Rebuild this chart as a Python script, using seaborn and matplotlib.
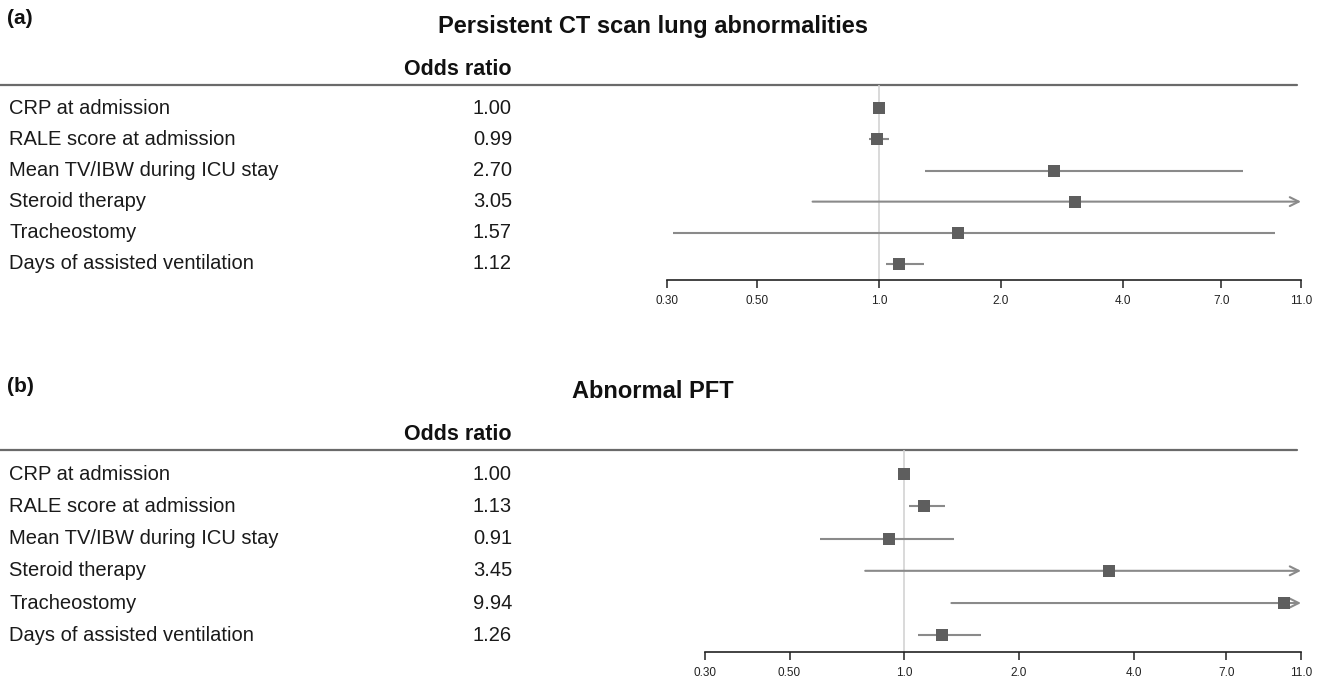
import numpy as np
import pandas as pd
import seaborn as sns
from matplotlib import pyplot as plt

sns.set_style('white')
plt.rcParams['font.family'] = ['Liberation Sans', 'DejaVu Sans']

labels = ['CRP at admission', 'RALE score at admission', 'Mean TV/IBW during ICU stay',
          'Steroid therapy', 'Tracheostomy', 'Days of assisted ventilation']
ticks = [0.30, 0.50, 1.0, 2.0, 4.0, 7.0, 11.0]
tick_labels = ['0.30', '0.50', '1.0', '2.0', '4.0', '7.0', '11.0']

# (a) Persistent CT scan lung abnormalities
or_a = [1.00, 0.99, 2.70, 3.05, 1.57, 1.12]
lo_a = [0.99, 0.945, 1.30, 0.686, 0.311, 1.04]
hi_a = [1.01, 1.06, 7.9, np.inf, 9.48, 1.29]

# (b) Abnormal PFT
or_b = [1.00, 1.13, 0.91, 3.45, 9.94, 1.26]
lo_b = [0.99, 1.03, 0.60, 0.79, 1.33, 1.09]
hi_b = [1.01, 1.28, 1.35, np.inf, np.inf, 1.59]

W, H = 1317, 680
fig = plt.figure(figsize=(W / 100, H / 100), dpi=100)

mark_col = '#5e5e5e'
ci_col = '#8a8a8a'
txt_col = '#1a1a1a'


def panel(tag, title, tag_y, title_base, head_y, axis_y, x_left, orv, lo, hi):
    ylim = (5.52, -0.75)
    bottom = (H - axis_y) / H
    height = (axis_y - head_y) / H
    # text / table layer
    tab = fig.add_axes([0, bottom, 1, height])
    tab.set_xlim(0, W)
    tab.set_ylim(*ylim)
    tab.axis('off')
    tab.plot([0, 1297], [ylim[1], ylim[1]], color='#6a6a6a', lw=1.6, clip_on=False)
    for i, (lab, v) in enumerate(zip(labels, orv)):
        tab.text(9, i, lab, fontsize=14.5, va='center', ha='left', color=txt_col)
        tab.text(512, i, '%.2f' % v, fontsize=14.5, va='center', ha='right', color=txt_col)
    fig.text(511 / W, 1 - (head_y - 10) / H, 'Odds ratio', fontsize=15.5, fontweight='bold',
             ha='right', va='baseline', color='#111')
    fig.text(653 / W, 1 - title_base / H, title, fontsize=17, fontweight='bold',
             ha='center', va='baseline', color='#111')
    fig.text(7 / W, 1 - tag_y / H, tag, fontsize=15, fontweight='bold',
             ha='left', va='center', color='#111')

    # forest layer
    ax = fig.add_axes([x_left / W, bottom, (1301 - x_left) / W, height])
    ax.patch.set_alpha(0)
    df = pd.DataFrame({'y': range(len(labels)), 'or': orv, 'lo': lo, 'hi': hi})
    ax.axvline(1.0, color='#cfcfcf', lw=1.1, zorder=0)
    for r in df.itertuples():
        if np.isfinite(r.hi):
            ax.hlines(r.y, r.lo, r.hi, color=ci_col, lw=1.5, zorder=1)
        else:
            ax.annotate('', xy=(11.0, r.y), xytext=(r.lo, r.y),
                        arrowprops=dict(arrowstyle='->', color=ci_col, lw=1.5,
                                        mutation_scale=16, shrinkA=0, shrinkB=0),
                        annotation_clip=False)
    sns.scatterplot(data=df, x='or', y='y', marker='s', s=70, color=mark_col,
                    edgecolor=mark_col, linewidth=0, ax=ax, zorder=3)
    ax.set_xscale('log')
    ax.set_xlim(0.3, 11.0)
    ax.set_ylim(*ylim)
    ax.set_xticks(ticks)
    ax.set_xticklabels(tick_labels, fontsize=8.5, color='#222')
    ax.minorticks_off()
    ax.set_yticks([])
    ax.set_xlabel('')
    ax.set_ylabel('')
    for s in ['left', 'top', 'right']:
        ax.spines[s].set_visible(False)
    ax.spines['bottom'].set_color('#222')
    ax.spines['bottom'].set_linewidth(1.2)
    ax.tick_params(axis='x', direction='out', length=6, width=1.1, color='#222', pad=5,
                   bottom=True)
    return ax


ax_a = panel('(a)', 'Persistent CT scan lung abnormalities', 19, 33, 85, 280, 667,
             or_a, lo_a, hi_a)
panel('(b)', 'Abnormal PFT', 387, 398, 450, 652, 705,
      or_b, lo_b, hi_b)

fig.savefig('out.png', dpi=100)
